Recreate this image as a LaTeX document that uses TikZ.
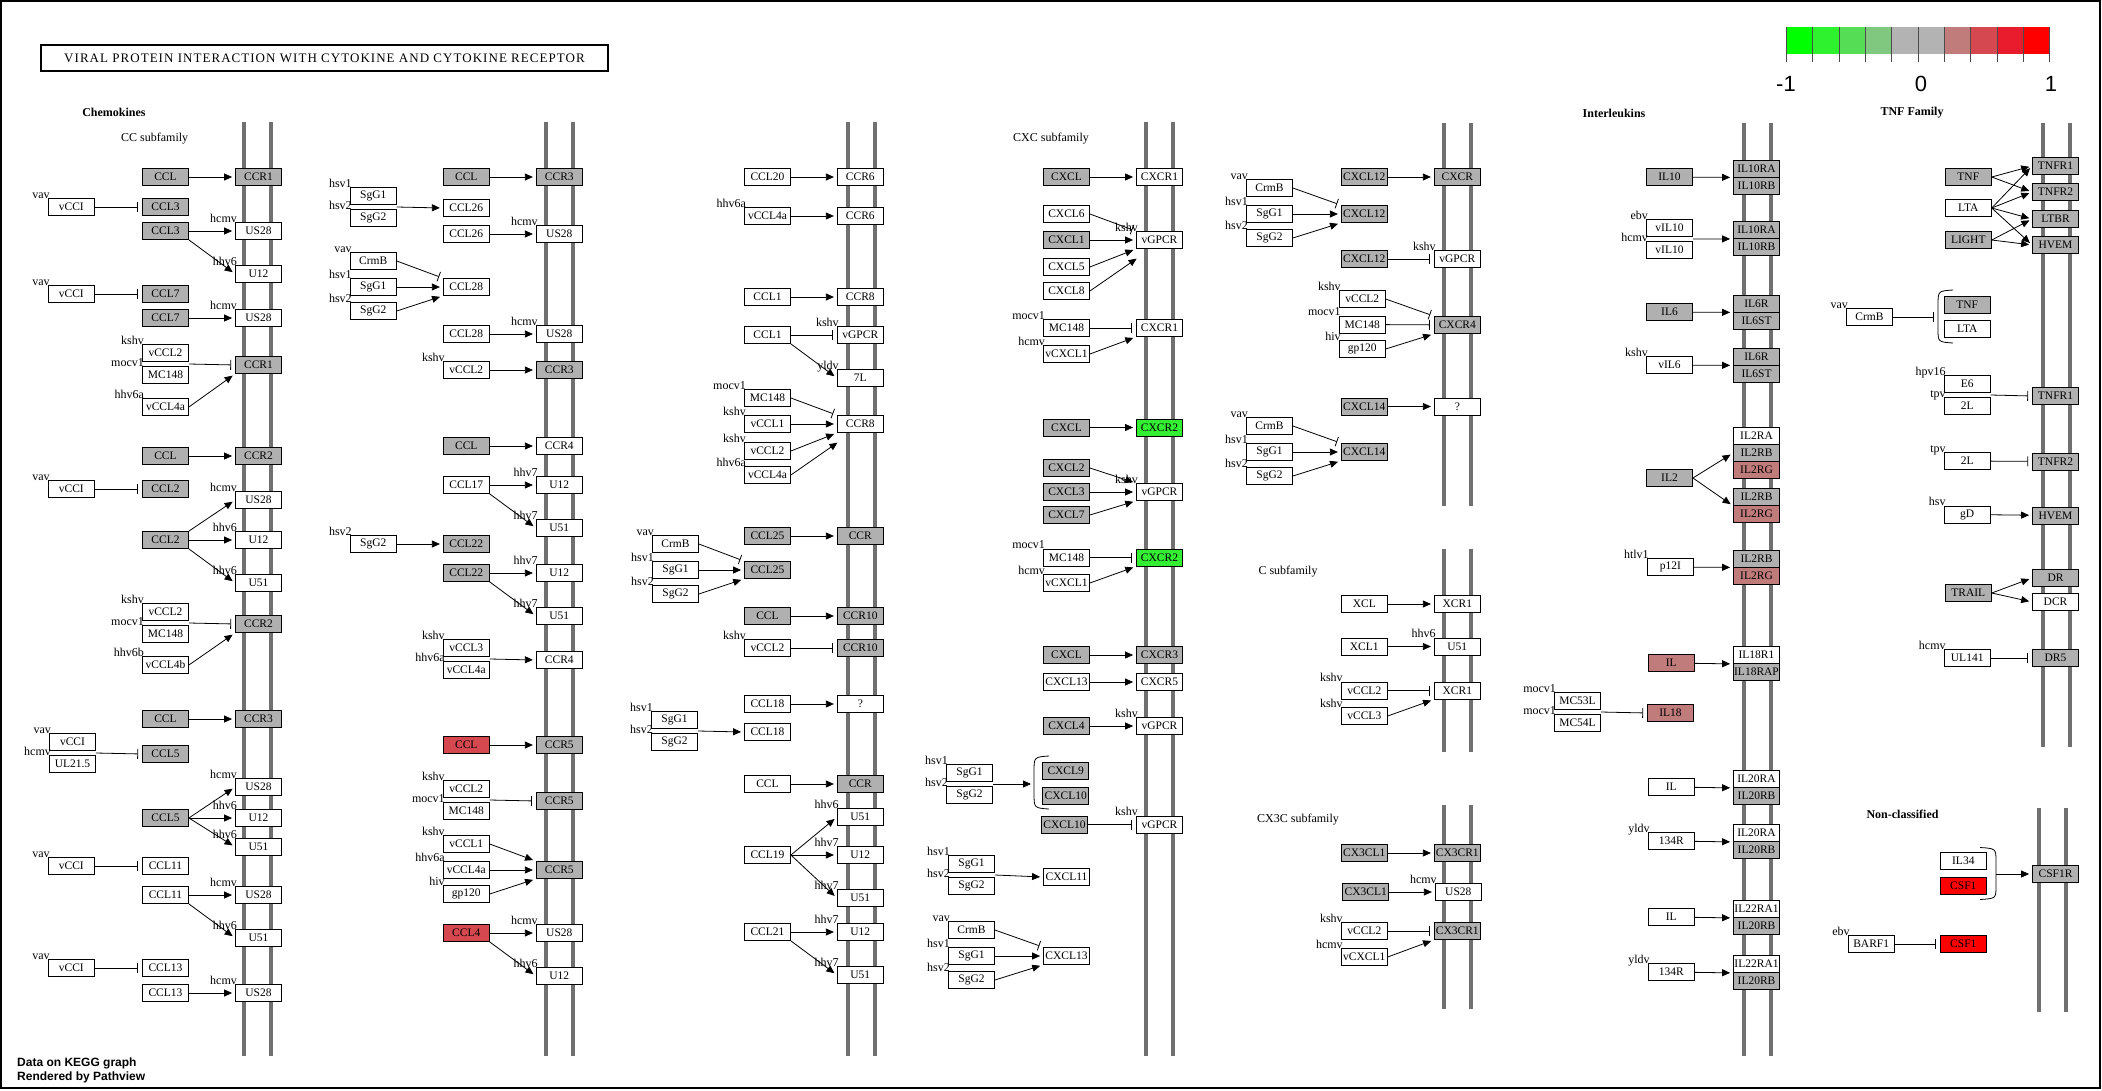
\documentclass[tikz,border=0pt]{standalone}
\usepackage{fontspec}
\setmainfont{Liberation Serif}
\newfontfamily\sansf{Liberation Sans}
\usetikzlibrary{arrows.meta,calc}
\definecolor{kgray}{HTML}{B0B0B0}
\definecolor{memgray}{HTML}{707070}
\definecolor{kred}{HTML}{D64850}
\definecolor{krose}{HTML}{C07B7B}
\definecolor{kbright}{HTML}{FF0000}
\definecolor{kgreen}{HTML}{33EE33}
\begin{document}
\begin{tikzpicture}[x=1pt,y=-1pt,
  kbox/.style={draw,line width=0.8pt,fill=white,minimum width=46pt,minimum height=17pt,inner sep=0pt,font=\fontsize{11.5}{11.5}\selectfont},
  gbox/.style={kbox,fill=kgray},
  rbox/.style={kbox,fill=kred},
  pbox/.style={kbox,fill=krose},
  fbox/.style={kbox,fill=kbright},
  nbox/.style={kbox,fill=kgreen},
  orgl/.style={anchor=base east,inner sep=0pt,xshift=2pt,font=\fontsize{12}{12}\selectfont},
  org/.style={label={[orgl]north west:#1}},
  act/.style={-{Triangle[length=8pt,width=7pt]},line width=0.8pt,shorten >=3pt},
  inh/.style={-{Bar[width=10pt]},line width=0.8pt,shorten >=4pt},
  mem/.style={line width=4pt,draw=memgray},
  brk/.style={line width=0.8pt},
  hdr/.style={font=\bfseries\fontsize{12}{12}\selectfont,inner sep=0pt},
  subl/.style={font=\fontsize{12}{12}\selectfont,inner sep=0pt}]
\useasboundingbox (0,0) rectangle (2102,1090);
\draw[line width=1.5pt] (1,1) rectangle (2100,1088);

% title and colour key
\node[draw,line width=1.8pt,minimum width=567.6pt,minimum height=26pt,inner sep=0pt] (title) at (324.5,58.2)
  {\addfontfeature{LetterSpace=8}\fontsize{13}{14}\selectfont VIRAL PROTEIN INTERACTION WITH CYTOKINE AND CYTOKINE RECEPTOR};
\fill[fill={rgb,255:red,0;green,255;blue,0}] (1786.4,27) rectangle (1812.7,54);
\fill[fill={rgb,255:red,46;green,242;blue,46}] (1812.7,27) rectangle (1839.1,54);
\fill[fill={rgb,255:red,85;green,221;blue,85}] (1839.1,27) rectangle (1865.4,54);
\fill[fill={rgb,255:red,128;green,200;blue,128}] (1865.4,27) rectangle (1891.7,54);
\fill[fill={rgb,255:red,179;green,179;blue,179}] (1891.7,27) rectangle (1944.4,54);
\fill[fill={rgb,255:red,192;green,123;blue,123}] (1944.4,27) rectangle (1970.7,54);
\fill[fill={rgb,255:red,214;green,72;blue,80}] (1970.7,27) rectangle (1997.0,54);
\fill[fill={rgb,255:red,232;green,28;blue,44}] (1997.0,27) rectangle (2023.4,54);
\fill[fill={rgb,255:red,255;green,0;blue,0}] (2023.4,27) rectangle (2049.7,54);
\draw[line width=0.8pt,black!70] (1786.4,27) -- (1786.4,61.5) (1812.7,27) -- (1812.7,61.5)
  (1839.1,27) -- (1839.1,61.5) (1865.4,27) -- (1865.4,61.5) (1891.7,27) -- (1891.7,61.5)
  (1918.1,27) -- (1918.1,61.5) (1944.4,27) -- (1944.4,61.5) (1970.7,27) -- (1970.7,61.5)
  (1997.0,27) -- (1997.0,61.5) (2023.4,27) -- (2023.4,61.5) (2049.7,27) -- (2049.7,61.5);
\node[font=\sansf\fontsize{22}{22}\selectfont] (kmin) at (1786,83.5) {-1};
\node[font=\sansf\fontsize{22}{22}\selectfont] (kmid) at (1921,83.5) {0};
\node[font=\sansf\fontsize{22}{22}\selectfont] (kmax) at (2051,83.5) {1};

% membranes
\draw[mem] (243.7,122) -- (243.7,1056); \draw[mem] (270.7,122) -- (270.7,1056);
\draw[mem] (546,122) -- (546,1056); \draw[mem] (572.7,122) -- (572.7,1056);
\draw[mem] (848,122) -- (848,1056); \draw[mem] (875,122) -- (875,1056);
\draw[mem] (1146,122) -- (1146,1056); \draw[mem] (1173,122) -- (1173,1056);
\draw[mem] (1444,123) -- (1444,506); \draw[mem] (1470.7,123) -- (1470.7,506);
\draw[mem] (1444,548.5) -- (1444,752); \draw[mem] (1470.7,548.5) -- (1470.7,752);
\draw[mem] (1444,805) -- (1444,1009); \draw[mem] (1470.7,805) -- (1470.7,1009);
\draw[mem] (1743.8,123) -- (1743.8,1056); \draw[mem] (1771,123) -- (1771,1056);
\draw[mem] (2042.8,123) -- (2042.8,747); \draw[mem] (2069.7,123) -- (2069.7,747);
\draw[mem] (2039,808) -- (2039,1012); \draw[mem] (2065.8,808) -- (2065.8,1012);

% headings
\node[hdr] (chemo) at (114,112) {Chemokines};
\node[subl] (ccsub) at (154.7,138.3) {CC subfamily};
\node[subl] (cxcsub) at (1051,139) {CXC subfamily};
\node[subl] (csub) at (1288,572) {C subfamily};
\node[subl] (cx3csub) at (1298,819.6) {CX3C subfamily};
\node[hdr] (inter) at (1614,113) {Interleukins};
\node[hdr] (tnffam) at (1912,113) {TNF Family};
\node[hdr] (noncl) at (1902.5,814) {Non-classified};
\node[anchor=west,inner sep=0pt,font=\sansf\bfseries\fontsize{12}{12}\selectfont] (note1) at (17,1063) {Data on KEGG graph};
\node[anchor=west,inner sep=0pt,font=\sansf\bfseries\fontsize{12}{12}\selectfont] (note2) at (17,1077.5) {Rendered by Pathview};

% CC subfamily, first membrane
\node[gbox] (a1) at (165.5,177) {CCL};
\node[gbox] (r1) at (258.5,177) {CCR1};
\node[kbox,org=vav] (v1) at (71.3,207) {vCCI};
\node[gbox] (a2) at (165.5,207) {CCL3};
\node[gbox] (a3) at (165.5,231) {CCL3};
\node[kbox,org=hcmv] (r2) at (258.5,231) {US28};
\node[kbox,org=hhv6] (r3) at (258.5,274) {U12};
\node[kbox,org=vav] (v2) at (71.3,294) {vCCI};
\node[gbox] (a4) at (165.5,294) {CCL7};
\node[gbox] (a5) at (165.5,318) {CCL7};
\node[kbox,org=hcmv] (r4) at (258.5,318) {US28};
\node[kbox,org=kshv] (a6) at (165.5,353) {vCCL2};
\node[kbox,org=mocv1] (a7) at (165.5,375) {MC148};
\node[gbox] (r5) at (258.5,365) {CCR1};
\node[kbox,org=hhv6a] (a8) at (165.5,407) {vCCL4a};
\node[gbox] (a9) at (165.5,456) {CCL};
\node[gbox] (r6) at (258.5,456) {CCR2};
\node[kbox,org=vav] (v3) at (71.3,489) {vCCI};
\node[gbox] (a10) at (165.5,489) {CCL2};
\node[kbox,org=hcmv] (r7) at (258.5,500) {US28};
\node[gbox] (a11) at (165.5,540) {CCL2};
\node[kbox,org=hhv6] (r8) at (258.5,540) {U12};
\node[kbox,org=hhv6] (r9) at (258.5,583) {U51};
\node[kbox,org=kshv] (a12) at (165.5,612) {vCCL2};
\node[kbox,org=mocv1] (a13) at (165.5,634) {MC148};
\node[gbox] (r10) at (258.5,624) {CCR2};
\node[kbox,org=hhv6b] (a14) at (165.5,665) {vCCL4b};
\node[gbox] (a15) at (165.5,719) {CCL};
\node[gbox] (r11) at (258.5,719) {CCR3};
\node[kbox,org=vav] (v4) at (72.5,742) {vCCI};
\node[kbox,org=hcmv] (v5) at (72.5,764) {UL21.5};
\node[gbox] (a16) at (165.5,754) {CCL5};
\node[kbox,org=hcmv] (r12) at (258.5,787) {US28};
\node[gbox] (a17) at (165.5,818) {CCL5};
\node[kbox,org=hhv6] (r13) at (258.5,818) {U12};
\node[kbox,org=hhv6] (r14) at (258.5,847) {U51};
\node[kbox,org=vav] (v6) at (71.3,866) {vCCI};
\node[kbox] (a18) at (165.5,866) {CCL11};
\node[kbox] (a19) at (165.5,895) {CCL11};
\node[kbox,org=hcmv] (r15) at (258.5,895) {US28};
\node[kbox,org=hhv6] (r16) at (258.5,938) {U51};
\node[kbox,org=vav] (v7) at (71.3,968) {vCCI};
\node[kbox] (a20) at (165.5,968) {CCL13};
\node[kbox] (a21) at (165.5,993) {CCL13};
\node[kbox,org=hcmv] (r17) at (258.5,993) {US28};
\draw[act] (a1) -- (r1);
\draw[inh] (v1) -- (a2);
\draw[act] (a3) -- (r2);
\draw[act] (a3.south east) -- (r3.west);
\draw[inh] (v2) -- (a4);
\draw[act] (a5) -- (r4);
\coordinate (j1) at ($(a6.south east)!0.5!(a7.north east)$);
\draw[inh] (j1) -- (r5.west);
\draw[act] (a8.east) -- (r5.south west);
\draw[act] (a9) -- (r6);
\draw[inh] (v3) -- (a10);
\draw[act] (a11.north east) -- (r7.west);
\draw[act] (a11) -- (r8);
\draw[act] (a11.south east) -- (r9.west);
\coordinate (j2) at ($(a12.south east)!0.5!(a13.north east)$);
\draw[inh] (j2) -- (r10.west);
\draw[act] (a14.east) -- (r10.south west);
\draw[act] (a15) -- (r11);
\coordinate (j3) at ($(v4.south east)!0.5!(v5.north east)$);
\draw[inh] (j3) -- (a16.west);
\draw[act] (a17.east) -- (r12.west);
\draw[act] (a17) -- (r13);
\draw[act] (a17.east) -- (r14.west);
\draw[inh] (v6) -- (a18);
\draw[act] (a19) -- (r15);
\draw[act] (a19.south east) -- (r16.west);
\draw[inh] (v7) -- (a20);
\draw[act] (a21) -- (r17);

% CC subfamily, second membrane
\node[gbox] (b1) at (466.3,177) {CCL};
\node[gbox] (s1) at (559.3,177) {CCR3};
\node[kbox,org=hsv1] (w1) at (373.3,196) {SgG1};
\node[kbox,org=hsv2] (w2) at (373.3,218) {SgG2};
\node[kbox] (b2) at (466.3,208) {CCL26};
\node[kbox] (b3) at (466.3,234) {CCL26};
\node[kbox,org=hcmv] (s2) at (559.3,234) {US28};
\node[kbox,org=vav] (w3) at (373.3,261) {CrmB};
\node[kbox,org=hsv1] (w4) at (373.3,287) {SgG1};
\node[kbox,org=hsv2] (w5) at (373.3,311) {SgG2};
\node[kbox] (b4) at (466.3,287) {CCL28};
\node[kbox] (b5) at (466.3,334) {CCL28};
\node[kbox,org=hcmv] (s3) at (559.3,334) {US28};
\node[kbox,org=kshv] (b6) at (466.3,370) {vCCL2};
\node[gbox] (s4) at (559.3,370) {CCR3};
\node[gbox] (b7) at (466.3,446) {CCL};
\node[kbox] (s5) at (559.3,446) {CCR4};
\node[kbox] (b8) at (466.3,485) {CCL17};
\node[kbox,org=hhv7] (s6) at (559.3,485) {U12};
\node[kbox,org=hhv7] (s7) at (559.3,528) {U51};
\node[kbox,org=hsv2] (w6) at (373.3,544) {SgG2};
\node[gbox] (b9) at (466.3,544) {CCL22};
\node[gbox] (b10) at (466.3,573) {CCL22};
\node[kbox,org=hhv7] (s8) at (559.3,573) {U12};
\node[kbox,org=hhv7] (s9) at (559.3,616) {U51};
\node[kbox,org=kshv] (b11) at (466.3,648) {vCCL3};
\node[kbox,org=hhv6a] (b12) at (466.3,670) {vCCL4a};
\node[kbox] (s10) at (559.3,660) {CCR4};
\node[rbox] (b13) at (466.3,745) {CCL};
\node[gbox] (s11) at (559.3,745) {CCR5};
\node[kbox,org=kshv] (b14) at (466.3,789) {vCCL2};
\node[kbox,org=mocv1] (b15) at (466.3,811) {MC148};
\node[gbox] (s12) at (559.3,801) {CCR5};
\node[kbox,org=kshv] (b16) at (466.3,844) {vCCL1};
\node[kbox,org=hhv6a] (b17) at (466.3,870) {vCCL4a};
\node[kbox,org=hiv] (b18) at (466.3,894) {gp120};
\node[gbox] (s13) at (559.3,870) {CCR5};
\node[rbox] (b19) at (466.3,933) {CCL4};
\node[kbox,org=hcmv] (s14) at (559.3,933) {US28};
\node[kbox,org=hhv6] (s15) at (559.3,976) {U12};
\draw[act] (b1) -- (s1);
\coordinate (j4) at ($(w1.south east)!0.5!(w2.north east)$);
\draw[act] (j4) -- (b2.west);
\draw[act] (b3) -- (s2);
\draw[inh] (w3.east) -- (b4.north west);
\draw[act] (w4) -- (b4);
\draw[act] (w5.east) -- (b4.south west);
\draw[act] (b5) -- (s3);
\draw[act] (b6) -- (s4);
\draw[act] (b7) -- (s5);
\draw[act] (b8) -- (s6);
\draw[act] (b8.south east) -- (s7.west);
\draw[act] (w6) -- (b9);
\draw[act] (b10) -- (s8);
\draw[act] (b10.south east) -- (s9.west);
\coordinate (j5) at ($(b11.south east)!0.5!(b12.north east)$);
\draw[act] (j5) -- (s10.west);
\draw[act] (b13) -- (s11);
\coordinate (j6) at ($(b14.south east)!0.5!(b15.north east)$);
\draw[inh] (j6) -- (s12.west);
\draw[act] (b16.east) -- (s13.north west);
\draw[act] (b17) -- (s13);
\draw[act] (b18.east) -- (s13.south west);
\draw[act] (b19) -- (s14);
\draw[act] (b19.south east) -- (s15.west);

% CC subfamily, third membrane
\node[kbox] (c1) at (767.5,177) {CCL20};
\node[kbox] (t1) at (860.3,177) {CCR6};
\node[kbox,org=hhv6a] (c2) at (767.5,216) {vCCL4a};
\node[kbox] (t2) at (860.3,216) {CCR6};
\node[kbox] (c3) at (767.5,297) {CCL1};
\node[kbox] (t3) at (860.3,297) {CCR8};
\node[kbox] (c4) at (767.5,335) {CCL1};
\node[kbox,org=kshv] (t4) at (860.3,335) {vGPCR};
\node[kbox,org=yldv] (t5) at (860.3,378) {7L};
\node[kbox,org=mocv1] (c5) at (767.5,398) {MC148};
\node[kbox,org=kshv] (c6) at (767.5,424) {vCCL1};
\node[kbox,org=kshv] (c7) at (767.5,451) {vCCL2};
\node[kbox,org=hhv6a] (c8) at (767.5,475) {vCCL4a};
\node[kbox] (t6) at (860.3,424) {CCR8};
\node[gbox] (c9) at (767.5,536) {CCL25};
\node[gbox] (t7) at (860.3,536) {CCR};
\node[kbox,org=vav] (u1) at (675.5,544) {CrmB};
\node[kbox,org=hsv1] (u2) at (675.5,570) {SgG1};
\node[kbox,org=hsv2] (u3) at (675.5,594) {SgG2};
\node[gbox] (c10) at (767.5,570) {CCL25};
\node[gbox] (c11) at (767.5,616) {CCL};
\node[gbox] (t8) at (860.3,616) {CCR10};
\node[kbox,org=kshv] (c12) at (767.5,648) {vCCL2};
\node[gbox] (t9) at (860.3,648) {CCR10};
\node[kbox] (c13) at (767.5,704) {CCL18};
\node[kbox] (t10) at (860.3,704) {?};
\node[kbox,org=hsv1] (u4) at (674.5,720) {SgG1};
\node[kbox,org=hsv2] (u5) at (674.5,742) {SgG2};
\node[kbox] (c14) at (767.5,732) {CCL18};
\node[kbox] (c15) at (767.5,784) {CCL};
\node[gbox] (t11) at (860.3,784) {CCR};
\node[kbox,org=hhv6] (t12) at (860.3,817) {U51};
\node[kbox] (c16) at (767.5,855) {CCL19};
\node[kbox,org=hhv7] (t13) at (860.3,855) {U12};
\node[kbox,org=hhv7] (t14) at (860.3,898) {U51};
\node[kbox] (c17) at (767.5,932) {CCL21};
\node[kbox,org=hhv7] (t15) at (860.3,932) {U12};
\node[kbox,org=hhv7] (t16) at (860.3,975) {U51};
\draw[act] (c1) -- (t1);
\draw[act] (c2) -- (t2);
\draw[act] (c3) -- (t3);
\draw[inh] (c4) -- (t4);
\draw[act] (c4.south east) -- (t5.west);
\draw[inh] (c5.east) -- (t6.north west);
\draw[act] (c6) -- (t6);
\draw[act] (c7.east) -- (t6.south west);
\draw[act] (c8.east) -- ([xshift=3pt,yshift=-8pt]t6.south west);
\draw[act] (c9) -- (t7);
\draw[inh] (u1.east) -- (c10.north west);
\draw[act] (u2) -- (c10);
\draw[act] (u3.east) -- (c10.south west);
\draw[act] (c11) -- (t8);
\draw[inh] (c12) -- (t9);
\draw[act] (c13) -- (t10);
\coordinate (j7) at ($(u4.south east)!0.5!(u5.north east)$);
\draw[act] (j7) -- (c14.west);
\draw[act] (c15) -- (t11);
\draw[act] (c16.east) -- (t12.west);
\draw[act] (c16) -- (t13);
\draw[act] (c16.east) -- (t14.west);
\draw[act] (c17) -- (t15);
\draw[act] (c17.south east) -- (t16.west);

% CXC subfamily
\node[gbox] (d1) at (1066.5,177) {CXCL};
\node[kbox] (e1) at (1159.5,177) {CXCR1};
\node[kbox] (d2) at (1066.5,214) {CXCL6};
\node[gbox] (d3) at (1066.5,240) {CXCL1};
\node[kbox] (d4) at (1066.5,267) {CXCL5};
\node[kbox] (d5) at (1066.5,291) {CXCL8};
\node[kbox,org=kshv] (e2) at (1159.5,240) {vGPCR};
\node[kbox,org=mocv1] (d6) at (1066.5,328) {MC148};
\node[kbox,org=hcmv] (d7) at (1066.5,354) {vCXCL1};
\node[kbox] (e3) at (1159.5,328) {CXCR1};
\node[gbox] (d8) at (1066.5,427.5) {CXCL};
\node[nbox] (e4) at (1159.5,427.5) {CXCR2};
\node[gbox] (d9) at (1066.5,468) {CXCL2};
\node[gbox] (d10) at (1066.5,492) {CXCL3};
\node[gbox] (d11) at (1066.5,515) {CXCL7};
\node[kbox,org=kshv] (e5) at (1159.5,492) {vGPCR};
\node[kbox,org=mocv1] (d12) at (1066.5,557.5) {MC148};
\node[kbox,org=hcmv] (d13) at (1066.5,583) {vCXCL1};
\node[nbox] (e6) at (1159.5,557.5) {CXCR2};
\node[gbox] (d14) at (1066.5,655) {CXCL};
\node[gbox] (e7) at (1159.5,655) {CXCR3};
\node[kbox] (d15) at (1066.5,682) {CXCL13};
\node[kbox] (e8) at (1159.5,682) {CXCR5};
\node[gbox] (d16) at (1066.5,726) {CXCL4};
\node[kbox,org=kshv] (e9) at (1159.5,726) {vGPCR};
\node[kbox,org=hsv1] (x1) at (969.5,773) {SgG1};
\node[kbox,org=hsv2] (x2) at (969.5,795) {SgG2};
\node[gbox] (d17) at (1065.7,771) {CXCL9};
\node[gbox] (d18) at (1065.7,796) {CXCL10};
\node[gbox] (d19) at (1064.5,824.5) {CXCL10};
\node[kbox,org=kshv] (e10) at (1159.5,824.5) {vGPCR};
\node[kbox,org=hsv1] (x3) at (971.5,864) {SgG1};
\node[kbox,org=hsv2] (x4) at (971.5,886) {SgG2};
\node[kbox] (d20) at (1066.5,877) {CXCL11};
\node[kbox,org=vav] (x5) at (971.5,930) {CrmB};
\node[kbox,org=hsv1] (x6) at (971.5,956) {SgG1};
\node[kbox,org=hsv2] (x7) at (971.5,980) {SgG2};
\node[kbox] (d21) at (1066.5,956) {CXCL13};
\draw[brk] (1049,756) .. controls (1034,757) .. (1034,772) -- (1034,793) .. controls (1034,808) .. (1049,809);
\coordinate (grp1) at (1034,784);
\draw[act] (d1) -- (e1);
\draw[inh] (d2.east) -- (e2.north west);
\draw[act] (d3) -- (e2);
\draw[act] (d4.east) -- (e2.south west);
\draw[act] (d5.east) -- ([xshift=3pt,yshift=-8pt]e2.south west);
\draw[inh] (d6) -- (e3);
\draw[act] (d7.east) -- (e3.south west);
\draw[act] (d8) -- (e4);
\draw[act] (d9.east) -- (e5.north west);
\draw[act] (d10) -- (e5);
\draw[act] (d11.east) -- (e5.south west);
\draw[inh] (d12) -- (e6);
\draw[act] (d13.east) -- (e6.south west);
\draw[act] (d14) -- (e7);
\draw[act] (d15) -- (e8);
\draw[act] (d16) -- (e9);
\coordinate (j8) at ($(x1.south east)!0.5!(x2.north east)$);
\draw[act] (j8) -- (grp1);
\draw[inh] (d19) -- (e10);
\coordinate (j9) at ($(x3.south east)!0.5!(x4.north east)$);
\draw[act] (j9) -- (d20.west);
\draw[inh] (x5.east) -- (d21.north west);
\draw[act] (x6) -- (d21);
\draw[act] (x7.east) -- (d21.south west);

% CXC (cont.), C and CX3C subfamilies
\node[gbox] (f1) at (1364.3,177) {CXCL12};
\node[gbox] (g1) at (1457.3,177) {CXCR};
\node[kbox,org=vav] (y1) at (1269.5,188) {CrmB};
\node[kbox,org=hsv1] (y2) at (1269.5,214) {SgG1};
\node[kbox,org=hsv2] (y3) at (1269.5,238) {SgG2};
\node[gbox] (f2) at (1364.3,214) {CXCL12};
\node[gbox] (f3) at (1364.3,259) {CXCL12};
\node[kbox,org=kshv] (g2) at (1457.3,259) {vGPCR};
\node[kbox,org=kshv] (f4) at (1362.3,299) {vCCL2};
\node[kbox,org=mocv1] (f5) at (1362.3,324.5) {MC148};
\node[kbox,org=hiv] (f6) at (1362.3,349) {gp120};
\node[gbox] (g3) at (1457.3,325) {CXCR4};
\node[gbox] (f7) at (1364.3,406.5) {CXCL14};
\node[kbox] (g4) at (1457.3,406.5) {?};
\node[kbox,org=vav] (y4) at (1269.5,426) {CrmB};
\node[kbox,org=hsv1] (y5) at (1269.5,452) {SgG1};
\node[kbox,org=hsv2] (y6) at (1269.5,476) {SgG2};
\node[gbox] (f8) at (1364.3,452) {CXCL14};
\node[kbox] (f9) at (1364.3,604) {XCL};
\node[kbox] (g5) at (1457.3,604) {XCR1};
\node[kbox] (f10) at (1364.3,646.5) {XCL1};
\node[kbox,org=hhv6] (g6) at (1457.3,646.5) {U51};
\node[kbox,org=kshv] (f11) at (1364.3,690.6) {vCCL2};
\node[kbox,org=kshv] (f12) at (1364.3,716) {vCCL3};
\node[kbox] (g7) at (1457.3,690.6) {XCR1};
\node[gbox] (f13) at (1364.3,853) {CX3CL1};
\node[gbox] (g8) at (1457.3,853) {CX3CR1};
\node[gbox] (f14) at (1365.7,892) {CX3CL1};
\node[kbox,org=hcmv] (g9) at (1458.3,892) {US28};
\node[kbox,org=kshv] (f15) at (1364.3,931) {vCCL2};
\node[kbox,org=hcmv] (f16) at (1364.3,957) {vCXCL1};
\node[gbox] (g10) at (1457.3,931) {CX3CR1};
\draw[act] (f1) -- (g1);
\draw[inh] (y1.east) -- (f2.north west);
\draw[act] (y2) -- (f2);
\draw[act] (y3.east) -- (f2.south west);
\draw[inh] (f3) -- (g2);
\draw[inh] (f4.east) -- (g3.north west);
\draw[inh] (f5) -- (g3);
\draw[act] (f6.east) -- (g3.south west);
\draw[act] (f7) -- (g4);
\draw[inh] (y4.east) -- (f8.north west);
\draw[act] (y5) -- (f8);
\draw[act] (y6.east) -- (f8.south west);
\draw[act] (f9) -- (g5);
\draw[act] (f10) -- (g6);
\draw[inh] (f11) -- (g7);
\draw[act] (f12.east) -- (g7.south west);
\draw[act] (f13) -- (g8);
\draw[act] (f14) -- (g9);
\draw[inh] (f15) -- (g10);
\draw[act] (f16.east) -- (g10.south west);

% interleukins
\node[gbox] (h1) at (1669.5,177) {IL10};
\node[gbox] (k1) at (1756.5,168.5) {IL10RA};
\node[gbox] (k2) at (1756.5,185.5) {IL10RB};
\node[kbox,org=ebv] (h2) at (1669.5,228) {vIL10};
\node[kbox,org=hcmv] (h3) at (1669.5,250) {vIL10};
\node[gbox] (k3) at (1756.5,230) {IL10RA};
\node[gbox] (k4) at (1756.5,247) {IL10RB};
\node[gbox] (h4) at (1669.5,312) {IL6};
\node[gbox] (k5) at (1756.5,303.5) {IL6R};
\node[gbox] (k6) at (1756.5,320.5) {IL6ST};
\node[kbox,org=kshv] (h5) at (1669.5,365) {vIL6};
\node[gbox] (k7) at (1756.5,356.5) {IL6R};
\node[gbox] (k8) at (1756.5,373.5) {IL6ST};
\node[gbox] (h6) at (1669.5,478) {IL2};
\node[kbox] (k9) at (1756.5,436) {IL2RA};
\node[gbox] (k10) at (1756.5,453) {IL2RB};
\node[pbox] (k11) at (1756.5,470) {IL2RG};
\node[gbox] (k12) at (1756.5,497) {IL2RB};
\node[pbox] (k13) at (1756.5,514) {IL2RG};
\node[kbox,org=htlv1] (h7) at (1670.3,567) {p12I};
\node[gbox] (k14) at (1756.5,558.5) {IL2RB};
\node[pbox] (k15) at (1756.5,575.5) {IL2RG};
\node[pbox] (h8) at (1671.2,663) {IL};
\node[kbox] (k16) at (1756.5,655) {IL18R1};
\node[gbox] (k17) at (1756.5,672) {IL18RAP};
\node[kbox,org=mocv1] (v8) at (1577.5,701) {MC53L};
\node[kbox,org=mocv1] (v9) at (1577.5,723) {MC54L};
\node[pbox] (h9) at (1670.5,713) {IL18};
\node[kbox] (h10) at (1671.2,787) {IL};
\node[kbox] (k18) at (1756.5,779) {IL20RA};
\node[gbox] (k19) at (1756.5,796) {IL20RB};
\node[kbox,org=yldv] (h11) at (1671.2,841) {134R};
\node[kbox] (k20) at (1756.5,833) {IL20RA};
\node[gbox] (k21) at (1756.5,850) {IL20RB};
\node[kbox] (h12) at (1671.2,917) {IL};
\node[kbox] (k22) at (1756.5,909) {IL22RA1};
\node[gbox] (k23) at (1756.5,926) {IL20RB};
\node[kbox,org=yldv] (h13) at (1671.2,972) {134R};
\node[kbox] (k24) at (1756.5,964) {IL22RA1};
\node[gbox] (k25) at (1756.5,981) {IL20RB};
\draw[act] (h1) -- (k1.south west);
\coordinate (j10) at ($(h2.south east)!0.5!(h3.north east)$);
\draw[act] (j10) -- (k3.south west);
\draw[act] (h4) -- (k5.south west);
\draw[act] (h5) -- (k7.south west);
\draw[act] (h6.east) -- (k10.west);
\draw[act] (h6.east) -- (k12.south west);
\draw[act] (h7) -- (k14.south west);
\draw[act] (h8) -- (k16.south west);
\coordinate (j11) at ($(v8.south east)!0.5!(v9.north east)$);
\draw[inh] (j11) -- (h9.west);
\draw[act] (h10) -- (k18.south west);
\draw[act] (h11) -- (k20.south west);
\draw[act] (h12) -- (k22.south west);
\draw[act] (h13) -- (k24.south west);

% TNF family and non-classified
\node[gbox] (m1) at (1968.3,177) {TNF};
\node[kbox] (m2) at (1968.3,208) {LTA};
\node[gbox] (m3) at (1968.3,240) {LIGHT};
\node[gbox] (n1) at (2055.5,166) {TNFR1};
\node[gbox] (n2) at (2055.5,192) {TNFR2};
\node[gbox] (n3) at (2055.5,219) {LTBR};
\node[gbox] (n4) at (2055.5,245) {HVEM};
\node[kbox,org=vav] (p1) at (1869.5,317) {CrmB};
\node[gbox] (m4) at (1967.2,305) {TNF};
\node[kbox] (m5) at (1967.2,329) {LTA};
\node[kbox,org=hpv16] (p2) at (1967.2,384) {E6};
\node[kbox,org=tpv] (p3) at (1967.2,406) {2L};
\node[gbox] (n5) at (2055.5,396) {TNFR1};
\node[kbox,org=tpv] (p4) at (1967.2,461) {2L};
\node[gbox] (n6) at (2055.5,461.5) {TNFR2};
\node[kbox,org=hsv] (p5) at (1967.2,514.5) {gD};
\node[gbox] (n7) at (2055.5,515.5) {HVEM};
\node[gbox] (m6) at (1968.3,593) {TRAIL};
\node[gbox] (n8) at (2055.5,578) {DR};
\node[kbox] (n9) at (2055.5,602) {DCR};
\node[kbox,org=hcmv] (p6) at (1967.2,658) {UL141};
\node[gbox] (n10) at (2055.5,658) {DR5};
\node[kbox] (p7) at (1963.3,861) {IL34};
\node[fbox] (p8) at (1963.3,886) {CSF1};
\node[gbox] (q1) at (2055.5,874) {CSF1R};
\node[kbox,org=ebv] (p9) at (1871.2,944) {BARF1};
\node[fbox] (p10) at (1963.3,944) {CSF1};
\draw[brk] (1953,290) .. controls (1938,291) .. (1938,305) -- (1938,329) .. controls (1938,342) .. (1953,343);
\coordinate (grp2) at (1938,317);
\draw[brk] (1980,847.5) .. controls (1996,848.5) .. (1996,862) -- (1996,886) .. controls (1996,898.5) .. (1980,899.5);
\coordinate (grp3) at (1996,874);
\draw[act] (m1.east) -- (n1.west);
\draw[act] (m1.east) -- (n2.west);
\draw[act] (m2.east) -- (n1.west);
\draw[act] (m2.east) -- (n2.west);
\draw[act] (m2.east) -- (n3.west);
\draw[act] (m2.east) -- (n4.west);
\draw[act] (m3.east) -- (n3.west);
\draw[act] (m3.east) -- (n4.west);
\draw[inh] (p1) -- (grp2);
\coordinate (j12) at ($(p2.south east)!0.5!(p3.north east)$);
\draw[inh] (j12) -- (n5.west);
\draw[inh] (p4) -- (n6);
\draw[act] (p5) -- (n7);
\draw[act] (m6.east) -- (n8.west);
\draw[act] (m6.east) -- (n9.west);
\draw[inh] (p6) -- (n10);
\draw[act] (grp3) -- (q1);
\draw[inh] (p9) -- (p10);
\end{tikzpicture}
\end{document}
